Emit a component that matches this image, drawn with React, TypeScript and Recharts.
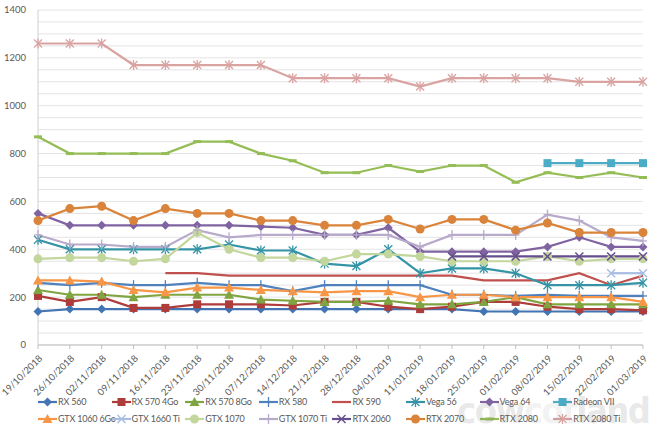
import React from 'react';
import { LineChart, Line, XAxis, YAxis, CartesianGrid, Legend } from 'recharts';

const dates = [
  '19/10/2018', '26/10/2018', '02/11/2018', '09/11/2018', '16/11/2018',
  '23/11/2018', '30/11/2018', '07/12/2018', '14/12/2018', '21/12/2018',
  '28/12/2018', '04/01/2019', '11/01/2019', '18/01/2019', '25/01/2019',
  '01/02/2019', '08/02/2019', '15/02/2019', '22/02/2019', '01/03/2019',
];

const yTicks = [
  0, 50, 100, 150, 200, 250, 300, 350, 400, 450, 500, 550, 600, 650, 700,
  750, 800, 850, 900, 950, 1000, 1050, 1100, 1150, 1200, 1250, 1300, 1350, 1400,
];

const rx560 = [140, 150, 150, 150, 150, 150, 150, 150, 150, 150, 150, 150, 150, 150, 140, 140, 140, 140, 140, 140];
const rx570_4 = [205, 180, 200, 155, 155, 170, 170, 170, 165, 180, 180, 160, 150, 160, 180, 180, 160, 150, 150, 145];
const rx570_8 = [230, 210, 210, 200, 210, 210, 210, 190, 185, 180, 180, 185, 170, 170, 180, 200, 170, 170, 170, 170];
const rx580 = [260, 250, 260, 250, 250, 260, 250, 250, 225, 250, 250, 250, 250, 210, 210, 205, 210, 205, 205, 205];
const rx590 = [null, null, null, null, 300, 300, 290, 290, 290, 290, 290, 290, 290, 290, 270, 270, 270, 300, 250, 290];
const vega56 = [440, 400, 400, 400, 400, 400, 420, 395, 395, 340, 330, 400, 300, 320, 320, 300, 250, 250, 250, 260];
const vega64 = [550, 500, 500, 500, 500, 500, 500, 495, 490, 460, 460, 490, 390, 390, 390, 390, 410, 450, 410, 410];
const radeon7 = [null, null, null, null, null, null, null, null, null, null, null, null, null, null, null, null, 760, 760, 760, 760];
const gtx1060 = [270, 270, 265, 230, 220, 240, 240, 230, 225, 220, 225, 225, 200, 210, 210, 200, 200, 200, 200, 180];
const gtx1660ti = [null, null, null, null, null, null, null, null, null, null, null, null, null, null, null, null, null, null, 300, 300];
const gtx1070 = [360, 365, 365, 350, 360, 470, 400, 365, 365, 350, 380, 380, 370, 350, 350, 350, 370, 350, 360, 360];
const gtx1070ti = [460, 420, 420, 410, 410, 480, 450, 460, 460, 460, 460, 460, 410, 460, 460, 460, 545, 520, 450, 435];
const rtx2060 = [null, null, null, null, null, null, null, null, null, null, null, null, null, 370, 370, 370, 370, 370, 370, 370];
const rtx2070 = [520, 570, 580, 520, 570, 550, 550, 520, 520, 500, 500, 525, 485, 525, 525, 480, 510, 470, 470, 470];
const rtx2080 = [870, 800, 800, 800, 800, 850, 850, 800, 770, 720, 720, 750, 725, 750, 750, 680, 720, 700, 720, 700];
const rtx2080ti = [1260, 1260, 1260, 1170, 1170, 1170, 1170, 1170, 1115, 1115, 1115, 1115, 1080, 1115, 1115, 1115, 1115, 1100, 1100, 1100];

type Shape = 'diamond' | 'square' | 'triangle' | 'plus' | 'x' | 'star' | 'circle' | 'dash' | 'none';

const series: { key: string; name: string; values: (number | null)[]; color: string; shape: Shape }[] = [
  { key: 'rx560', name: 'RX 560', values: rx560, color: '#4374B3', shape: 'diamond' },
  { key: 'rx570_4', name: 'RX 570 4Go', values: rx570_4, color: '#AE3C3A', shape: 'square' },
  { key: 'rx570_8', name: 'RX 570 8Go', values: rx570_8, color: '#7FA541', shape: 'triangle' },
  { key: 'rx580', name: 'RX 580', values: rx580, color: '#4F81BD', shape: 'plus' },
  { key: 'rx590', name: 'RX 590', values: rx590, color: '#C0504D', shape: 'none' },
  { key: 'vega56', name: 'Vega 56', values: vega56, color: '#3494A6', shape: 'star' },
  { key: 'vega64', name: 'Vega 64', values: vega64, color: '#8064A2', shape: 'diamond' },
  { key: 'radeon7', name: 'Radeon VII', values: radeon7, color: '#4BACC6', shape: 'square' },
  { key: 'gtx1060', name: 'GTX 1060 6Go', values: gtx1060, color: '#F79646', shape: 'triangle' },
  { key: 'gtx1660ti', name: 'GTX 1660 Ti', values: gtx1660ti, color: '#A7BDE2', shape: 'x' },
  { key: 'gtx1070', name: 'GTX 1070', values: gtx1070, color: '#C3D69B', shape: 'circle' },
  { key: 'gtx1070ti', name: 'GTX 1070 Ti', values: gtx1070ti, color: '#B8AACB', shape: 'plus' },
  { key: 'rtx2060', name: 'RTX 2060', values: rtx2060, color: '#654E8C', shape: 'x' },
  { key: 'rtx2070', name: 'RTX 2070', values: rtx2070, color: '#D9843A', shape: 'circle' },
  { key: 'rtx2080', name: 'RTX 2080', values: rtx2080, color: '#95BD55', shape: 'dash' },
  { key: 'rtx2080ti', name: 'RTX 2080 Ti', values: rtx2080ti, color: '#D9A3A1', shape: 'star' },
];

const data = dates.map((d, i) => {
  const row: Record<string, any> = { date: d };
  series.forEach((s) => { row[s.key] = s.values[i]; });
  return row;
});

function Marker({ cx, cy, shape, color }: { cx: number; cy: number; shape: Shape; color: string }) {
  switch (shape) {
    case 'diamond':
      return <polygon points={`${cx},${cy - 4.5} ${cx + 4.5},${cy} ${cx},${cy + 4.5} ${cx - 4.5},${cy}`} fill={color} />;
    case 'square':
      return <rect x={cx - 4} y={cy - 4} width={8} height={8} fill={color} />;
    case 'triangle':
      return <polygon points={`${cx},${cy - 5} ${cx + 5},${cy + 4} ${cx - 5},${cy + 4}`} fill={color} />;
    case 'plus':
      return (
        <g stroke={color} strokeWidth={1.3}>
          <line x1={cx - 4} y1={cy} x2={cx + 4} y2={cy} />
          <line x1={cx} y1={cy - 5} x2={cx} y2={cy + 5} />
        </g>
      );
    case 'x':
      return (
        <g stroke={color} strokeWidth={1.5}>
          <line x1={cx - 4} y1={cy - 4} x2={cx + 4} y2={cy + 4} />
          <line x1={cx - 4} y1={cy + 4} x2={cx + 4} y2={cy - 4} />
        </g>
      );
    case 'star':
      return (
        <g stroke={color} strokeWidth={1.3}>
          <line x1={cx - 4} y1={cy - 4} x2={cx + 4} y2={cy + 4} />
          <line x1={cx - 4} y1={cy + 4} x2={cx + 4} y2={cy - 4} />
          <line x1={cx} y1={cy - 5} x2={cx} y2={cy + 5} />
        </g>
      );
    case 'circle':
      return <circle cx={cx} cy={cy} r={4.5} fill={color} />;
    case 'dash':
      return <line x1={cx - 4} y1={cy} x2={cx + 4} y2={cy} stroke={color} strokeWidth={3} />;
    default:
      return null;
  }
}

const makeDot = (shape: Shape, color: string) => (props: any) => {
  const { cx, cy, index, value } = props;
  if (cx == null || cy == null || value == null || shape === 'none') {
    return <g key={`d-${index}`} />;
  }
  return (
    <g key={`d-${index}`}>
      <Marker cx={cx} cy={cy} shape={shape} color={color} />
    </g>
  );
};

const DateTick = ({ x, y, payload }: any) => (
  <text
    transform={`translate(${x + 5},${y + 8}) rotate(-45)`}
    textAnchor="end"
    fontSize={9.5}
    fill="#595959"
    fontFamily="Lato, 'Open Sans', sans-serif"
  >
    {payload.value}
  </text>
);

const LegendContent = () => (
  <div style={{ display: 'flex', flexWrap: 'wrap', width: 600, marginTop: -2 }}>
    {series.map((s) => (
      <div key={s.key} style={{ width: 73.6, height: 17, display: 'flex', alignItems: 'center' }}>
        <svg width={19} height={12} style={{ flex: 'none' }}>
          <line x1={0} y1={6} x2={19} y2={6} stroke={s.color} strokeWidth={2.2} />
          <Marker cx={9.5} cy={6} shape={s.shape} color={s.color} />
        </svg>
        <span style={{ fontSize: 9, color: '#595959', whiteSpace: 'nowrap', marginLeft: 1, letterSpacing: -0.2 }}>
          {s.name}
        </span>
      </div>
    ))}
  </div>
);

export default function App() {
  return (
    <div
      style={{
        position: 'absolute', left: 0, top: 0, width: 660, height: 431, background: '#fff',
        fontFamily: "Lato, 'Open Sans', sans-serif", overflow: 'hidden',
      }}
    >
      <LineChart width={660} height={431} data={data} margin={{ top: 10, right: 17, left: 0, bottom: 0 }}>
        <CartesianGrid vertical={false} stroke="#E4E4E4" />
        <XAxis
          dataKey="date"
          interval={0}
          height={50}
          tick={<DateTick />}
          axisLine={{ stroke: '#BFBFBF' }}
          tickLine={{ stroke: '#BFBFBF' }}
          tickSize={4}
        />
        <YAxis
          width={38}
          domain={[0, 1400]}
          ticks={yTicks}
          interval={0}
          tickFormatter={(v: number) => (v % 200 === 0 ? String(v) : '')}
          tick={{ fontSize: 9.5, fill: '#595959' }}
          axisLine={{ stroke: '#D0D0D0' }}
          tickLine={false}
          tickMargin={6}
        />
        <Legend
          verticalAlign="bottom"
          content={<LegendContent />}
          wrapperStyle={{ left: 38, width: 600, height: 36 }}
        />
        {series.map((s) => (
          <Line
            key={s.key}
            type="linear"
            dataKey={s.key}
            name={s.name}
            stroke={s.color}
            strokeWidth={2.2}
            dot={makeDot(s.shape, s.color)}
            activeDot={false}
            isAnimationActive={false}
            connectNulls={false}
          />
        ))}
      </LineChart>
      <div
        style={{
          position: 'absolute', left: 457, top: 393, fontSize: 36, fontWeight: 700,
          fontFamily: "'DejaVu Sans Condensed', 'DejaVu Sans', sans-serif",
          color: 'rgba(120,120,120,0.18)', letterSpacing: -1.5, pointerEvents: 'none', lineHeight: '36px',
          whiteSpace: 'nowrap',
        }}
      >
        cow<span style={{ color: 'rgba(120,120,120,0.1)' }}>cot</span>land
      </div>
    </div>
  );
}
